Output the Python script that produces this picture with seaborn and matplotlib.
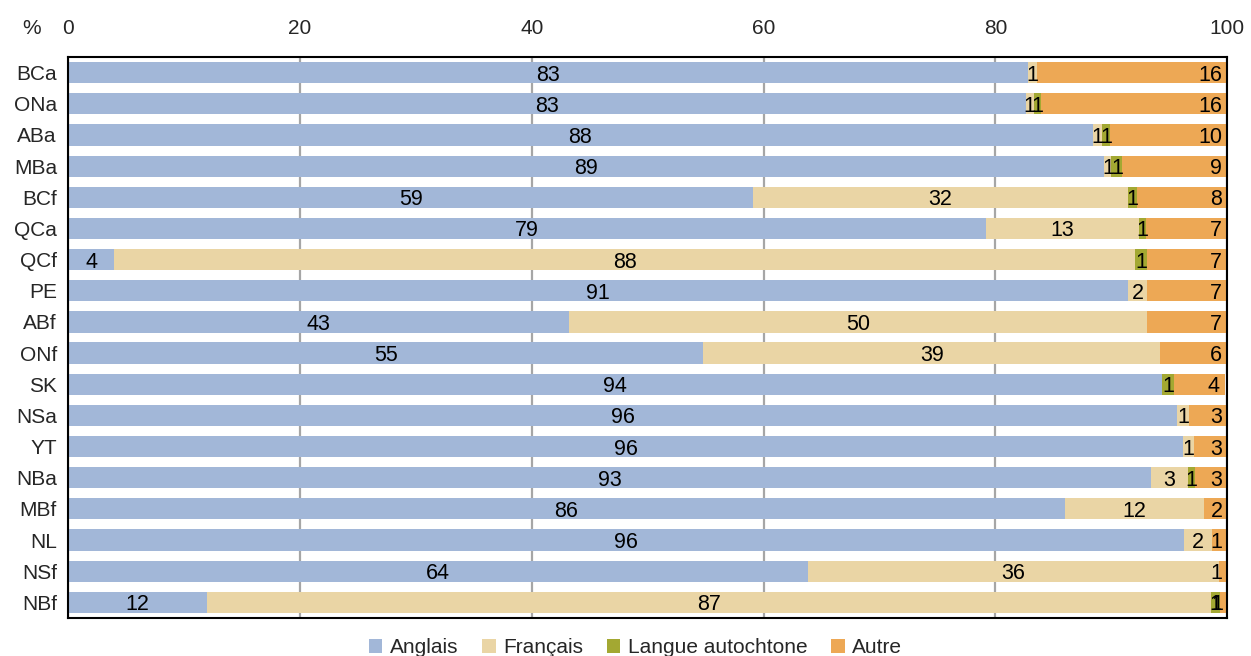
import pandas as pd
import matplotlib.pyplot as plt
import numpy as np
import seaborn as sns
from matplotlib.patches import Patch

# Données (lecture du graphique)
regions = ['BCa', 'ONa', 'ABa', 'MBa', 'BCf', 'QCa', 'QCf', 'PE', 'ABf',
           'ONf', 'SK', 'NSa', 'YT', 'NBa', 'MBf', 'NL', 'NSf', 'NBf']
anglais = [82.8, 82.6, 88.4, 89.4, 59.1, 79.2, 3.97, 91.4, 43.2,
           54.8, 94.4, 95.7, 96.2, 93.4, 86.0, 96.3, 63.8, 12.0]
francais = [0.8, 0.7, 0.8, 0.6, 32.3, 13.2, 88.1, 1.7, 49.9,
            39.4, 0.0, 1.0, 0.95, 3.2, 12.0, 2.4, 35.5, 86.6]
autochtone = [0.0, 0.6, 0.7, 0.95, 0.85, 0.6, 1.04, 0.0, 0.0,
              0.0, 1.0, 0.0, 0.0, 0.6, 0.0, 0.0, 0.0, 0.8]
autre = [16.4, 16.1, 10.1, 9.05, 7.75, 7.0, 6.9, 6.9, 6.9,
         5.8, 4.4, 3.3, 2.9, 2.8, 2.1, 1.3, 0.7, 0.7]

series = ['Anglais', 'Français', 'Langue autochtone', 'Autre']
couleurs = ['#A2B7D8', '#EAD5A5', '#A3A832', '#EDA855']

df = pd.DataFrame({'Région': regions, 'Anglais': anglais, 'Français': francais,
                   'Langue autochtone': autochtone, 'Autre': autre})
cum = df[series].cumsum(axis=1)

sns.set_style('white')
plt.rcParams['font.family'] = ['Liberation Sans', 'DejaVu Sans']

fig = plt.figure(figsize=(12.51, 6.56), dpi=100)
ax = fig.add_axes([0.0544, 0.058, 0.9266, 0.855])

# barres empilées : on trace les cumuls du plus grand au plus petit
for s, c in reversed(list(zip(series, couleurs))):
    sns.barplot(x=cum[s], y=df['Région'], color=c, orient='h', width=0.68,
                saturation=1, linewidth=0, ax=ax, zorder=2)

# étiquettes
for i in range(len(df)):
    left = 0
    for s in series:
        v = df.loc[i, s]
        lab = int(round(v))
        if lab > 0:
            if s == 'Autre':
                ax.text(left + v - 0.45, i, str(lab), ha='right', va='center_baseline',
                        fontsize=15.5, color='black', zorder=5)
            else:
                ax.text(left + v / 2, i, str(lab), ha='center', va='center_baseline',
                        fontsize=15.5, color='black', zorder=5)
        left += v

ax.set_xlim(0, 100)
ax.set_ylim(len(df) - 0.5, -0.5)
ax.xaxis.tick_top()
ax.set_xticks([0, 20, 40, 60, 80, 100])
ax.tick_params(axis='x', length=0, pad=14, labelsize=15)
ax.tick_params(axis='y', length=0, pad=8, labelsize=15)
ax.set_xlabel('')
ax.set_ylabel('')
ax.grid(True, axis='x', color='#A6A6A6', linewidth=1.6, zorder=0)
ax.set_axisbelow(True)
for sp in ax.spines.values():
    sp.set_visible(True)
    sp.set_color('black')
    sp.set_linewidth(1.5)
    sp.set_zorder(6)

fig.text(0.025, 0.957, '%', fontsize=15, ha='center', va='center')

handles = [Patch(facecolor=c, edgecolor='none', label=s) for s, c in zip(series, couleurs)]
fig.legend(handles=handles, loc='lower center', bbox_to_anchor=(0.508, -0.03), ncol=4,
           frameon=False, fontsize=15, handlelength=0.65, handleheight=0.65,
           handletextpad=0.35, columnspacing=1.15)

fig.savefig('out.png', dpi=100)
